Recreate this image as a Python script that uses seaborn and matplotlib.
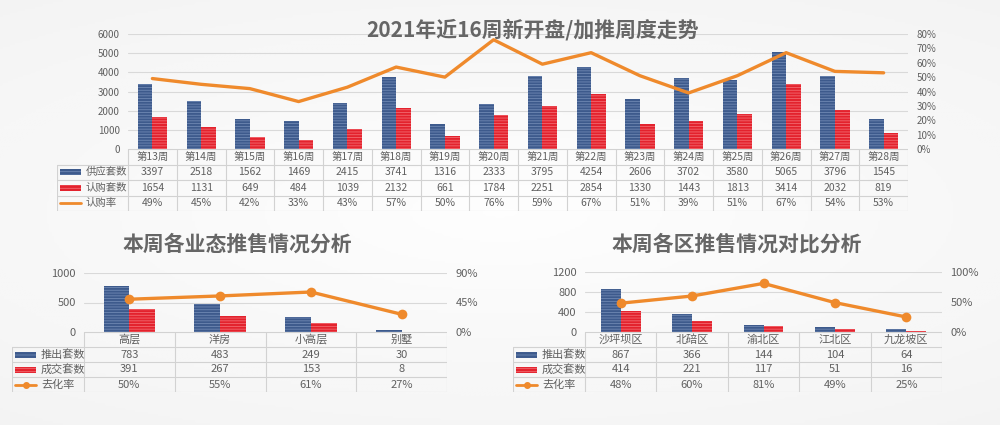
import numpy as np
import pandas as pd
import matplotlib
matplotlib.use("Agg")
import matplotlib.pyplot as plt
import seaborn as sns
from matplotlib.patches import Rectangle
from matplotlib.ticker import PercentFormatter

# top chart: weekly supply / subscriptions
weeks = ["第13周", "第14周", "第15周", "第16周", "第17周", "第18周", "第19周", "第20周",
         "第21周", "第22周", "第23周", "第24周", "第25周", "第26周", "第27周", "第28周"]
supply = [3397, 2518, 1562, 1469, 2415, 3741, 1316, 2333, 3795, 4254, 2606, 3702, 3580, 5065, 3796, 1545]
subscribed = [1654, 1131, 649, 484, 1039, 2132, 661, 1784, 2251, 2854, 1330, 1443, 1813, 3414, 2032, 819]
sub_rate = [49, 45, 42, 33, 43, 57, 50, 76, 59, 67, 51, 39, 51, 67, 54, 53]

# bottom left: by property type
types = ["高层", "洋房", "小高层", "别墅"]
type_launch = [783, 483, 249, 30]
type_deal = [391, 267, 153, 8]
type_rate = [50, 55, 61, 27]

# bottom right: by district
districts = ["沙坪坝区", "北碚区", "渝北区", "江北区", "九龙坡区"]
dist_launch = [867, 366, 144, 104, 64]
dist_deal = [414, 221, 117, 51, 16]
dist_rate = [48, 60, 81, 49, 25]

BLUE, BLUE_LT = "#3d5a8c", "#6f88b3"
RED, RED_LT = "#e3222d", "#f26a70"
ORANGE = "#ef8a2c"
GRID = "#d9d9d9"
TXT = "#606060"

sns.set_theme(style="white")
plt.rcParams["font.family"] = ["Noto Sans CJK SC", "DejaVu Sans"]
plt.rcParams["hatch.linewidth"] = 0.6

W, H = 1000, 425
fig = plt.figure(figsize=(10, 4.25), dpi=100)
fig.patch.set_facecolor("#f3f3f3")

# soft light background
bg = fig.add_axes([0, 0, 1, 1], zorder=-5)
yy, xx = np.mgrid[-1:1:200j, -1:1:400j]
bg.imshow(1 - 0.35 * np.sqrt(xx ** 2 * 0.6 + yy ** 2), cmap="Greys_r", vmin=-4, vmax=1.05,
          aspect="auto", extent=[0, 1, 0, 1])
bg.axis("off")


def px_axes(x0, y0, x1, y1):
    return fig.add_axes([x0 / W, 1 - y1 / H, (x1 - x0) / W, (y1 - y0) / H])


def panel(cats, s1, s2, rate, names, box, tbl_left, row_h, ymax, yticks, rmax, rticks,
          marker, fs_tick, fs_tbl, group_w):
    n = len(cats)
    x0, y0, x1, y1 = box
    ax = px_axes(x0, y0, x1, y1)
    ax.set_facecolor("none")
    df = pd.DataFrame({"cat": cats * 2, "val": s1 + s2,
                       "series": [names[0]] * n + [names[1]] * n})
    sns.barplot(data=df, x="cat", y="val", hue="series", palette=[BLUE, RED],
                width=group_w, gap=0, saturation=1, ax=ax, legend=False)
    for cont, lt in zip(ax.containers, [BLUE_LT, RED_LT]):
        for b in cont:
            b.set_hatch("------")
            b.set_edgecolor(lt)
            b.set_linewidth(0)
    ax.set_xlim(-0.5, n - 0.5)
    ax.set_ylim(0, ymax)
    ax.set_yticks(yticks)
    ax.set_xticks([])
    ax.set_xlabel("")
    ax.set_ylabel("")
    ax.grid(axis="y", color=GRID, lw=0.8)
    ax.set_axisbelow(True)
    ax.tick_params(axis="y", length=0, labelsize=fs_tick, colors=TXT, pad=6)
    sns.despine(ax=ax, left=True, bottom=True)

    ax2 = ax.twinx()
    sns.lineplot(x=np.arange(n), y=np.array(rate) / 100, ax=ax2, color=ORANGE, lw=2.4,
                 marker=marker, markersize=7, markeredgewidth=0)
    ax2.set_xlim(-0.5, n - 0.5)
    ax2.set_ylim(0, rmax)
    ax2.set_yticks(rticks)
    ax2.yaxis.set_major_formatter(PercentFormatter(1.0, decimals=0))
    ax2.tick_params(axis="y", length=0, labelsize=fs_tick, colors=TXT, pad=6)
    ax2.set_ylabel("")
    for s in ax2.spines.values():
        s.set_visible(False)

    # data table under the plot
    colw = (x1 - x0) / n
    wl = (x0 - tbl_left) / colw
    tax = px_axes(tbl_left, y1, x1, y1 + 4 * row_h)
    tax.set_xlim(-0.5 - wl, n - 0.5)
    tax.set_ylim(0, 4)
    tax.axis("off")
    lc = dict(color="#d2d2d2", lw=0.8)
    tax.plot([-0.5, n - 0.5], [4, 4], **lc)
    for yv in [3, 2, 1, 0]:
        tax.plot([-0.5 - wl, n - 0.5], [yv, yv], **lc)
    tax.plot([-0.5 - wl, -0.5 - wl], [0, 3], **lc)
    for k in range(n + 1):
        tax.plot([-0.5 + k, -0.5 + k], [0, 4], **lc)
    for i in range(n):
        tax.text(i, 3.5, cats[i], ha="center", va="center", fontsize=fs_tbl, color=TXT)
        tax.text(i, 2.5, str(s1[i]), ha="center", va="center", fontsize=fs_tbl, color=TXT)
        tax.text(i, 1.5, str(s2[i]), ha="center", va="center", fontsize=fs_tbl, color=TXT)
        tax.text(i, 0.5, f"{rate[i]}%", ha="center", va="center", fontsize=fs_tbl, color=TXT)
    sx0 = -0.5 - wl + 3 / colw
    sx1 = sx0 + 21 / colw
    for yc, c, lt in [(2.5, BLUE, BLUE_LT), (1.5, RED, RED_LT)]:
        tax.add_patch(Rectangle((sx0, yc - 0.2), sx1 - sx0, 0.4, facecolor=c,
                                edgecolor=lt, hatch="-----", lw=0))
    tax.plot([sx0, sx1], [0.5, 0.5], color=ORANGE, lw=2)
    if marker:
        tax.plot([(sx0 + sx1) / 2], [0.5], marker="o", color=ORANGE, markersize=4)
    for yc, lab in zip([2.5, 1.5, 0.5], names):
        tax.text(sx1 + 5 / colw, yc, lab, ha="left", va="center", fontsize=fs_tbl, color=TXT)
    return ax


panel(weeks, supply, subscribed, sub_rate, ["供应套数", "认购套数", "认购率"],
      (128, 34, 908, 149), 57, 15.5, 6000, range(0, 6001, 1000),
      0.8, np.arange(0, 0.81, 0.1), None, 7, 7.5, 0.6)
fig.text(533 / W, 1 - 30 / H, "2021年近16周新开盘/加推周度走势", ha="center", va="center",
         fontsize=15, fontweight="bold", color="#666666")

panel(types, type_launch, type_deal, type_rate, ["推出套数", "成交套数", "去化率"],
      (84, 273, 447, 332), 12, 15, 1000, [0, 500, 1000],
      0.9, [0, 0.45, 0.9], "o", 8, 8, 0.57)
fig.text(237 / W, 1 - 244 / H, "本周各业态推售情况分析", ha="center", va="center",
         fontsize=15, fontweight="bold", color="#666666")

panel(districts, dist_launch, dist_deal, dist_rate, ["推出套数", "成交套数", "去化率"],
      (585, 272, 942, 332), 513, 15, 1200, [0, 400, 800, 1200],
      1.0, [0, 0.5, 1.0], "o", 8, 8, 0.56)
fig.text(737 / W, 1 - 244 / H, "本周各区推售情况对比分析", ha="center", va="center",
         fontsize=15, fontweight="bold", color="#666666")

fig.savefig("out.png", dpi=100, facecolor=fig.get_facecolor())
